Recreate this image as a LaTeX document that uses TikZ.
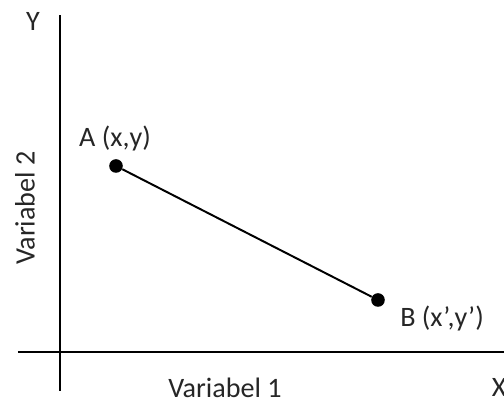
\documentclass[tikz,border=0pt]{standalone}
\usepackage{fontspec}
\setmainfont{Carlito}
\usepackage{tikz}
\usetikzlibrary{positioning}

\begin{document}
\begin{tikzpicture}[
  lbl/.style={inner sep=0pt,font=\fontsize{20}{24}\selectfont,text=black!85},
  pt/.style={circle,fill=black,minimum size=3.4mm,inner sep=0pt},
  axis/.style={line width=2.1pt}]
 \useasboundingbox (0,0) rectangle (12.6,10.075);
 % ---- axes ----
 \coordinate (ytop) at (1.5,9.7);
 \coordinate (ybot) at (1.5,0.3);
 \coordinate (xl) at (0.45,1.275);
 \coordinate (xr) at (12.6,1.275);
 \draw[axis] (ybot)--(ytop);
 \draw[axis] (xl)--(xr);
 \node[lbl] (ylab) at (0.825,9.55) {Y};
 \node[lbl] (xlab) at (12.48,0.38) {X};
 \node[lbl] (v1) at (5.625,0.38) {Variabel 1};
 \node[lbl,rotate=90] (v2) at (0.625,4.875) {Variabel 2};
 % ---- points ----
 \node[pt] (A) at (2.9,5.925) {};
 \node[pt] (B) at (9.45,2.575) {};
 \draw[line width=1.4pt] (A)--(B);
 \node[lbl] (alab) at (2.875,6.625) {A (x,y)};
 \node[lbl,anchor=west] (blab) at (10.0,2.125) {B (x’,y’)};
\end{tikzpicture}
\end{document}
